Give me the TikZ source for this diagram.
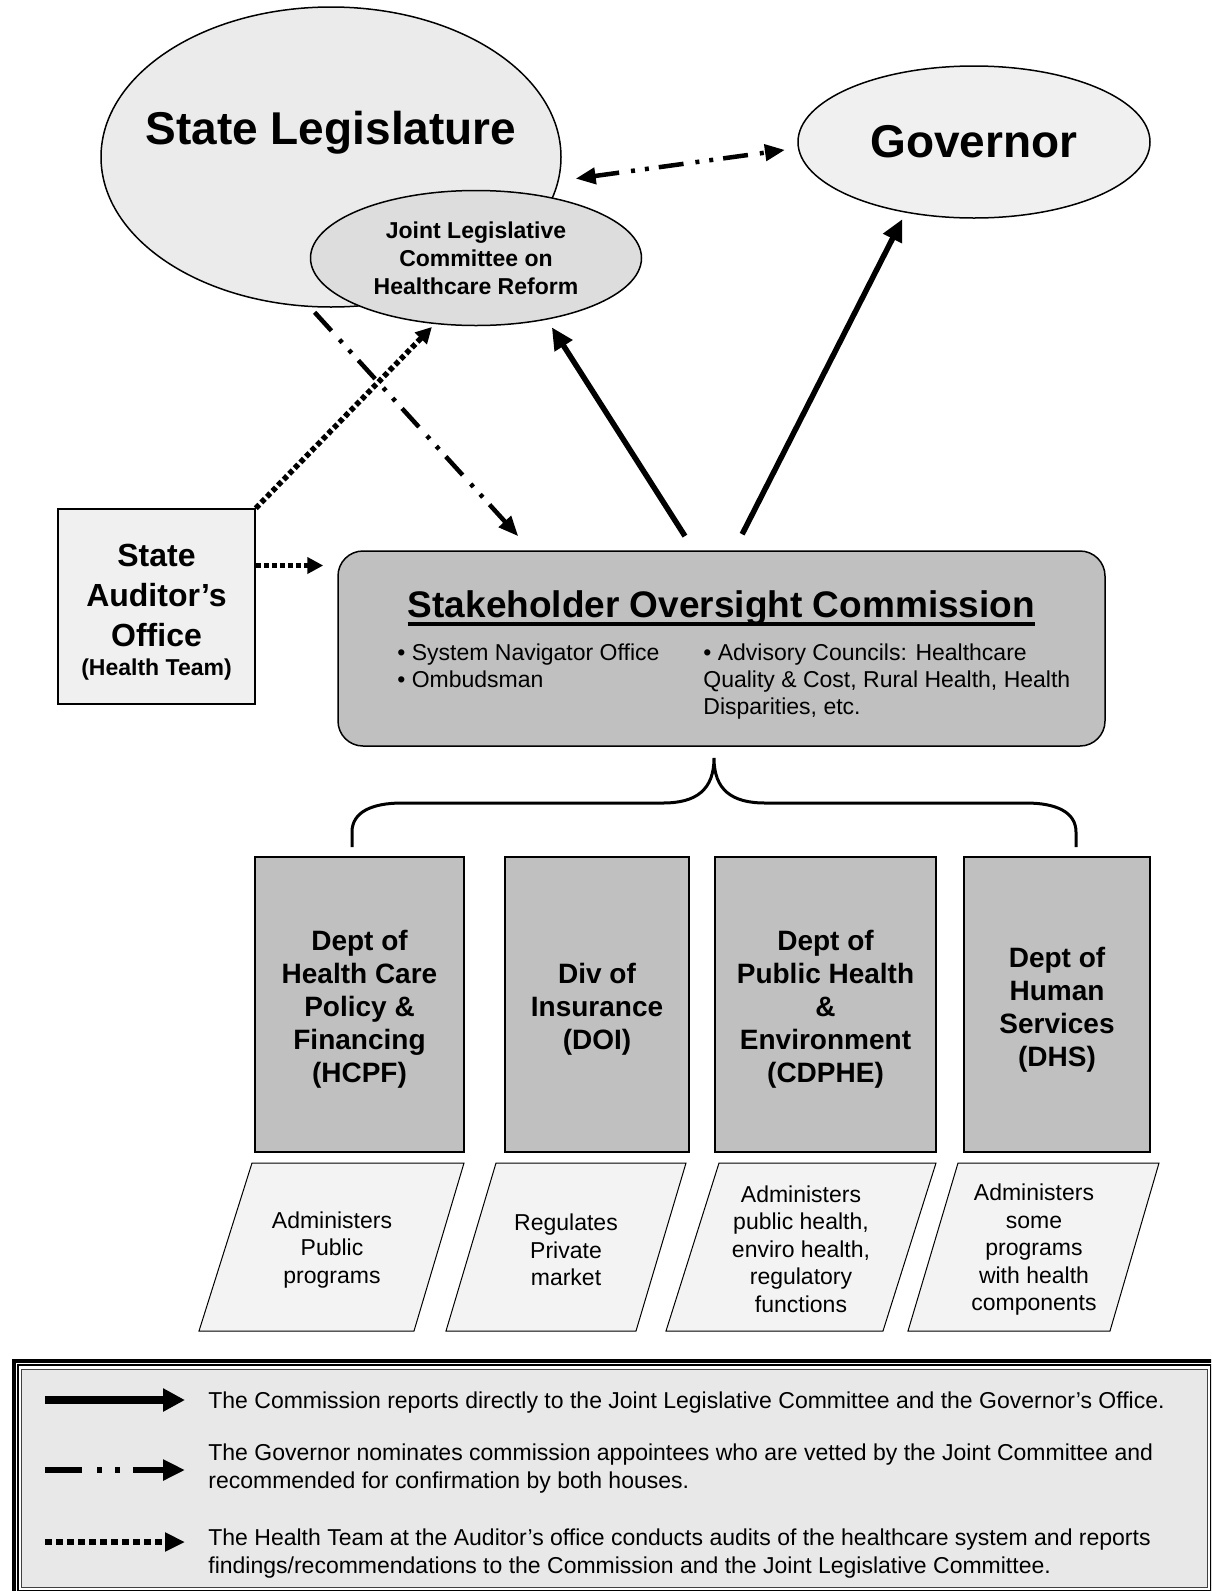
\documentclass[tikz,border=0pt]{standalone}
\usepackage{fontspec}
\setmainfont{Liberation Sans}
\usetikzlibrary{arrows.meta, positioning, shapes.geometric}

\definecolor{legisfill}{RGB}{235,235,235}
\definecolor{govfill}{RGB}{240,240,240}
\definecolor{jlcfill}{RGB}{221,221,221}
\definecolor{audfill}{RGB}{240,240,240}
\definecolor{socfill}{RGB}{192,192,192}
\definecolor{deptfill}{RGB}{192,192,192}
\definecolor{parafill}{RGB}{243,243,243}
\definecolor{legfill}{RGB}{232,232,232}

\newcommand{\setfs}[2]{\fontsize{#1}{#2}\selectfont}

\begin{document}
\begin{tikzpicture}[
    x=0.5pt, y=-0.5pt,
    oval/.style={ellipse, draw, line width=0.75pt, inner sep=0pt, align=center},
    box/.style={rectangle, draw, line width=0.75pt, inner sep=0pt, align=center},
    dept/.style={box, fill=deptfill, minimum height=147.5pt},
    depttxt/.style={align=center, inner sep=0pt, font=\setfs{14}{16.5}\bfseries},
    note/.style={align=center, inner sep=0pt, font=\setfs{11.5}{13.75}},
    para/.style={draw, line width=0.5pt, fill=parafill},
    report/.style={line width=2.75pt, -{Triangle[length=11pt, width=10pt]}},
    nominate/.style={line width=2.25pt,
                     dash pattern=on 12.5pt off 6pt on 2pt off 5pt on 2pt off 5pt,
                     -{Triangle[length=10pt, width=8pt]}},
    audit/.style={line width=2.75pt, dash pattern=on 2.5pt off 1.5pt,
                  -{Triangle[length=8pt, width=8pt]}},
    brace/.style={line width=1.5pt},
    keytxt/.style={anchor=west, align=left, inner sep=0pt, font=\setfs{11.5}{14}},
  ]
  \useasboundingbox (0,0) rectangle (1211,1591);
  \clip (0,0) rectangle (1211,1591);

  % ---- Legislature and Governor ----
  \node[oval, fill=legisfill, minimum width=230pt, minimum height=150pt,
        label={[font=\setfs{23}{27}\bfseries, yshift=12pt]center:State Legislature}]
    (legis) at (331,157) {};
  \node[oval, fill=govfill, minimum width=176pt, minimum height=76pt,
        font=\setfs{23}{27}\bfseries] (gov) at (974,142) {Governor};
  \node[oval, fill=jlcfill, minimum width=165.5pt, minimum height=67.5pt,
        font=\setfs{11.5}{14}\bfseries]
    (jlc) at (476,258) {Joint Legislative\\Committee on\\Healthcare Reform};

  % ---- Auditor ----
  \node[box, fill=audfill, minimum width=98.5pt, minimum height=97.5pt]
    (auditor) at (156.5,606.5) {};
  \node[align=center, inner sep=0pt, font=\setfs{16}{20}\bfseries]
    (audtxt) at ([yshift=-3pt]auditor.center)
    {State\\Auditor’s\\Office\\[-5.5pt]{\setfs{11.5}{14}(Health Team)}};

  % ---- Commission ----
  \node[box, fill=socfill, rounded corners=12.5pt, minimum width=383.5pt,
        minimum height=97.5pt] (soc) at (721.5,648.5) {};
  \node[inner sep=0pt, anchor=base, font=\setfs{18.5}{22}\bfseries]
    (soctitle) at (721.5,617) {Stakeholder Oversight Commission};
  \draw[line width=2pt] ([yshift=-3.5pt]soctitle.base west)
    -- ([yshift=-3.5pt]soctitle.base east);
  \node[anchor=north west, inner sep=0pt, align=left, font=\setfs{11.5}{13.5}]
    (socleft) at (397,643) {• System Navigator Office\\• Ombudsman};
  \node[anchor=north west, inner sep=0pt, align=left, font=\setfs{11.5}{13.5}]
    (socright) at (703,643)
    {• Advisory Councils: Healthcare\\Quality \& Cost, Rural Health, Health\\Disparities, etc.};

  % ---- Departments ----
  \node[dept, minimum width=104.5pt] (hcpf) at (359.5,1004.5) {};
  \node[dept, minimum width=92pt] (doi) at (597,1004.5) {};
  \node[dept, minimum width=110.5pt] (cdphe) at (825.5,1004.5) {};
  \node[dept, minimum width=93pt] (dhs) at (1057,1004.5) {};
  \node[depttxt] (hcpftxt) at ([yshift=-2.5pt]hcpf.center)
    {Dept of\\Health Care\\Policy \&\\Financing\\(HCPF)};
  \node[depttxt] (doitxt) at ([yshift=-2.5pt]doi.center)
    {Div of\\Insurance\\(DOI)};
  \node[depttxt] (cdphetxt) at ([yshift=-2.5pt]cdphe.center)
    {Dept of\\Public Health\\\&\\Environment\\(CDPHE)};
  \node[depttxt] (dhstxt) at ([yshift=-2.5pt]dhs.center)
    {Dept of\\Human\\Services\\(DHS)};

  % ---- Role parallelograms ----
  \foreach \tl/\tr/\br/\bl in {252/464/414/199, 496/686/636/446,
                               719/936/883/666, 958/1159/1110/908}
    \draw[para] (\tl,1163) -- (\tr,1163) -- (\br,1331) -- (\bl,1331) -- cycle;
  \node[note] (hcpfnote) at (332,1250) {Administers\\Public\\programs};
  \node[note] (doinote) at (566,1250) {Regulates\\Private\\market};
  \node[note] (cdphenote) at (801,1249)
    {Administers\\public health,\\enviro health,\\regulatory\\functions};
  \node[note] (dhsnote) at (1034,1250)
    {Administers\\some\\programs\\with health\\components};

  % ---- Brace ----
  \coordinate (braceL) at (352,847);
  \coordinate (braceR) at (1076,847);
  \coordinate (bracetip) at (714,758);
  \draw[brace] (braceL) -- (352,832) .. controls (352,812) and (372,803) .. (402,803)
    -- (663,803) .. controls (696,803) and (714,790) .. (bracetip)
    .. controls (714,790) and (732,803) .. (765,803)
    -- (1026,803) .. controls (1056,803) and (1076,812) .. (1076,832) -- (braceR);

  % ---- Arrows ----
  \draw[report, shorten <=8.4pt, shorten >=4.5pt] ([xshift=-13.75pt]soc.north) -- (jlc.-41);
  \draw[report, shorten <=9pt, shorten >=3.5pt] ([xshift=6.25pt]soc.north) -- (gov.226);
  \draw[nominate, shorten <=3.5pt, shorten >=9.5pt] (legis.-98) -- ([xshift=-95.25pt]soc.north);
  \draw[nominate, {Triangle[length=10pt, width=8pt]}-{Triangle[length=10pt, width=8pt]},
        shorten <=8.5pt, shorten >=6.5pt] (legis.-6) -- (gov.182);
  \draw[audit, shorten >=2pt] (auditor.north east) -- (jlc.-122);
  \coordinate (audout) at ([yshift=20.5pt]auditor.east);
  \draw[audit, shorten >=7pt] (audout) -- (audout -| soc.west);

  % ---- Legend ----
  \fill[white] (12,1359) rectangle (1217,1597);
  \draw[line width=2pt] (14,1361) rectangle (1215,1595);
  \draw[line width=1pt] (18,1365) rectangle (1211,1591);
  \fill[legfill] (21.5,1369.5) rectangle (1207.5,1587.5);
  \draw[line width=0.6pt, black!75] (21.5,1369.5) rectangle (1207.5,1587.5);

  \coordinate (keyAa) at (45,1400);
  \coordinate (keyAb) at (185,1400);
  \coordinate (keyBa) at (45,1470);
  \coordinate (keyBb) at (185,1470);
  \coordinate (keyCa) at (45,1542);
  \coordinate (keyCb) at (185,1542);
  \draw[line width=4pt, -{Triangle[length=11pt, width=11pt]}] (keyAa) -- (keyAb);
  \draw[line width=3pt,
        dash pattern=on 18.5pt off 7.5pt on 2.5pt off 6.5pt on 2.5pt off 6.5pt,
        -{Triangle[length=11pt, width=10pt]}] (keyBa) -- (keyBb);
  \draw[line width=3pt, dash pattern=on 3.5pt off 2pt,
        -{Triangle[length=10pt, width=9pt]}] (keyCa) -- (keyCb);

  \node[keytxt] (keyAtxt) at (208,1403)
    {The Commission reports directly to the Joint Legislative Committee and the Governor’s Office.};
  \node[keytxt] (keyBtxt) at (208,1469)
    {The Governor nominates commission appointees who are vetted by the Joint Committee and\\recommended for confirmation by both houses.};
  \node[keytxt] (keyCtxt) at (208,1554)
    {The Health Team at the Auditor’s office conducts audits of the healthcare system and reports\\findings/recommendations to the Commission and the Joint Legislative Committee.};

\end{tikzpicture}
\end{document}
